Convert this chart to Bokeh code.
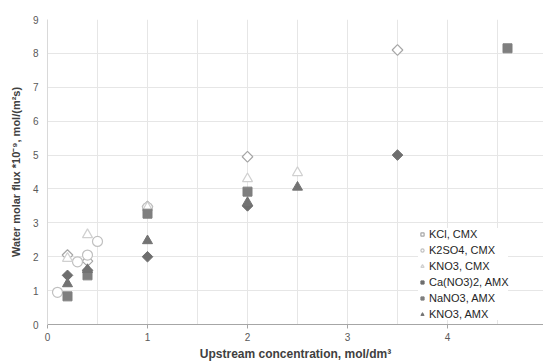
import math
from bokeh.plotting import figure
from bokeh.models import Range1d, FixedTicker, Legend, LegendItem
from bokeh.embed import file_html
from bokeh.resources import INLINE

# data
kcl_x = [0.2, 0.4, 1, 2, 3.5]
kcl_y = [2.05, 1.87, 3.48, 4.95, 8.1]
k2so4_x = [0.1, 0.3, 0.4, 0.5, 1]
k2so4_y = [0.95, 1.85, 2.05, 2.45, 3.45]
kno3c_x = [0.2, 0.4, 1, 2, 2.5]
kno3c_y = [1.95, 2.65, 3.45, 4.3, 4.48]
ca_x = [0.2, 0.4, 1, 2, 3.5]
ca_y = [1.45, 1.6, 2.0, 3.5, 5.0]
nano3_x = [0.2, 0.4, 1, 2, 4.6]
nano3_y = [0.83, 1.45, 3.27, 3.92, 8.15]
kno3a_x = [0.2, 0.4, 1, 2, 2.5]
kno3a_y = [1.2, 1.62, 2.47, 3.6, 4.05]

x_ticks = [0, 1, 2, 3, 4, 5]
y_ticks = list(range(0, 10))

FONT = "Liberation Sans"

p = figure(width=543, height=363, output_backend="svg", toolbar_location=None,
           x_range=Range1d(0, 4.96), y_range=Range1d(0, 9),
           min_border_left=47, min_border_right=0, min_border_top=19, min_border_bottom=39)
p.outline_line_color = None

p.xaxis.ticker = FixedTicker(ticks=x_ticks)
p.yaxis.ticker = FixedTicker(ticks=y_ticks)
p.xgrid.ticker = FixedTicker(ticks=[i * 0.5 for i in range(0, 11)])
p.ygrid.ticker = FixedTicker(ticks=y_ticks)
p.xgrid.grid_line_color = "#e6e6e6"
p.ygrid.grid_line_color = "#e6e6e6"

for ax in (p.xaxis, p.yaxis):
    ax.major_label_text_font = FONT
    ax.major_label_text_font_size = "10px"
    ax.major_label_text_color = "#595959"
    ax.axis_label_text_font = FONT
    ax.axis_label_text_font_style = "bold"
    ax.axis_label_text_color = "#404040"
    ax.minor_tick_line_color = None

p.xaxis.axis_label_text_font_size = "12px"
p.yaxis.axis_label_text_font_size = "11px"

p.xaxis.axis_line_color = "#a6a6a6"
p.xaxis.major_tick_line_color = "#a6a6a6"
p.xaxis.major_tick_out = 4
p.xaxis.major_tick_in = 0
p.xaxis.major_label_standoff = 4
p.xaxis.axis_label_standoff = 3
p.xaxis.axis_label = "Upstream concentration, mol/dm³"

p.yaxis.axis_line_color = "#d9d9d9"
p.yaxis.major_tick_line_color = None
p.yaxis.major_tick_out = 0
p.yaxis.major_label_standoff = 9
p.yaxis.axis_label_standoff = 8
p.yaxis.axis_label = "Water molar flux *10⁻⁹, mol/(m²s)"

rot = math.pi / 4
r1 = p.scatter(kcl_x, kcl_y, marker="square", angle=rot, size=7.5, fill_color="white",
               line_color="#a6a6a6", line_width=1.2)
r2 = p.scatter(k2so4_x, k2so4_y, marker="circle", size=10, fill_color="white",
               line_color="#c0c0c0", line_width=1.2)
r3 = p.scatter(kno3c_x, kno3c_y, marker="triangle", size=10, fill_color="white",
               line_color="#d0d0d0", line_width=1.2)
r4 = p.scatter(ca_x, ca_y, marker="square", angle=rot, size=7.5, fill_color="#6e6e6e",
               line_color="#6e6e6e")
r5 = p.scatter(nano3_x, nano3_y, marker="square", size=9, fill_color="#7f7f7f",
               line_color="#7f7f7f")
r6 = p.scatter(kno3a_x, kno3a_y, marker="triangle", size=10, fill_color="#737373",
               line_color="#737373")

legend = Legend(items=[
    LegendItem(label="KCl, CMX", renderers=[r1]),
    LegendItem(label="K2SO4, CMX", renderers=[r2]),
    LegendItem(label="KNO3, CMX", renderers=[r3]),
    LegendItem(label="Ca(NO3)2, AMX", renderers=[r4]),
    LegendItem(label="NaNO3, AMX", renderers=[r5]),
    LegendItem(label="KNO3, AMX", renderers=[r6]),
], location=(371, 4))
legend.label_text_font = FONT
legend.label_text_font_size = "11px"
legend.label_text_color = "#262626"
legend.label_standoff = 3
legend.label_height = 12
legend.glyph_width = 8
legend.glyph_height = 8
legend.spacing = 4
legend.padding = 4
legend.margin = 0
legend.border_line_color = None
legend.background_fill_color = "white"
legend.background_fill_alpha = 1.0
p.add_layout(legend, "center")

open("out.html", "w").write(file_html(p, INLINE))
